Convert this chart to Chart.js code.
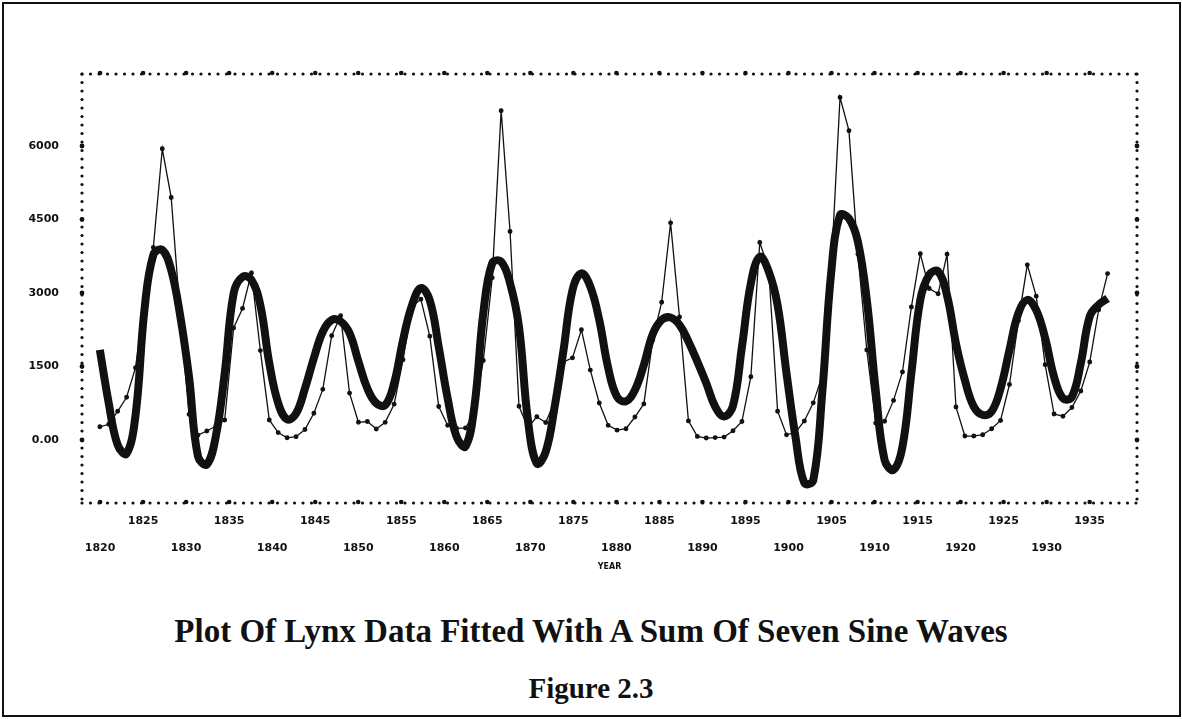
<!DOCTYPE html>
<html>
<head>
<meta charset="utf-8">
<script src="https://cdn.jsdelivr.net/npm/chart.js"></script>
<style>
    body { margin: 0; background: #fff; }
    #frame { position: absolute; left: 2px; top: 2px; width: 1175px; height: 711px; border: 2px solid #111; }
    #wrap { position: absolute; left: 0; top: 0; width: 1182px; height: 600px; }
    .cap { position: absolute; left: 0; width: 1182px; text-align: center; font-family: 'Liberation Serif', 'Times New Roman', serif; font-weight: bold; color: #111; }
</style>
</head>
<body>
<div id="frame"></div>
<div id="wrap"><canvas id="chart1"></canvas></div>
<div class="cap" style="top: 613px; font-size: 33px">Plot Of Lynx Data Fitted With A Sum Of Seven Sine Waves</div>
<div class="cap" style="top: 672px; font-size: 29px">Figure 2.3</div>
<script>
const years = [
    1821, 1822, 1823, 1824, 1825, 1826, 1827, 1828, 1829, 1830,
    1831, 1832, 1833, 1834, 1835, 1836, 1837, 1838, 1839, 1840,
    1841, 1842, 1843, 1844, 1845, 1846, 1847, 1848, 1849, 1850,
    1851, 1852, 1853, 1854, 1855, 1856, 1857, 1858, 1859, 1860,
    1861, 1862, 1863, 1864, 1865, 1866, 1867, 1868, 1869, 1870,
    1871, 1872, 1873, 1874, 1875, 1876, 1877, 1878, 1879, 1880,
    1881, 1882, 1883, 1884, 1885, 1886, 1887, 1888, 1889, 1890,
    1891, 1892, 1893, 1894, 1895, 1896, 1897, 1898, 1899, 1900,
    1901, 1902, 1903, 1904, 1905, 1906, 1907, 1908, 1909, 1910,
    1911, 1912, 1913, 1914, 1915, 1916, 1917, 1918, 1919, 1920,
    1921, 1922, 1923, 1924, 1925, 1926, 1927, 1928, 1929, 1930,
    1931, 1932, 1933, 1934
]

// raw lynx trappings
const lynx = [
    269, 321, 585, 871, 1475, 2821, 3928, 5943, 4950, 2577,
    523, 98, 184, 279, 409, 2285, 2685, 3409, 1824, 409,
    151, 45, 68, 213, 546, 1033, 2129, 2536, 957, 361,
    377, 225, 360, 731, 1638, 2725, 2871, 2119, 684, 299,
    236, 245, 552, 1623, 3311, 6721, 4254, 687, 255, 473,
    358, 784, 1594, 1676, 2251, 1426, 756, 299, 201, 229,
    469, 736, 2042, 2811, 4431, 2511, 389, 73, 39, 49,
    59, 188, 377, 1292, 4031, 3495, 587, 105, 153, 387,
    758, 1307, 3465, 6991, 6313, 3794, 1836, 345, 382, 808,
    1388, 2713, 3800, 3091, 2985, 3790, 674, 81, 80, 108,
    229, 399, 1132, 2432, 3574, 2935, 1537, 529, 485, 662,
    1000, 1590, 2657, 3396
]

// fitted curve (sum of seven sine waves)
const fitted = [
    1840, 750, -100, -280, 500, 2650, 3780, 3880, 3470, 2550,
    1290, -330, -500, 70, 1360, 2990, 3330, 3270, 2750, 1570,
    750, 420, 540, 1050, 1670, 2210, 2450, 2420, 2180, 1600,
    1050, 750, 710, 1160, 2040, 2750, 3100, 2850, 1900, 850,
    70, -130, 680, 2590, 3610, 3640, 3200, 2310, 410, -480,
    -240, 680, 1840, 3060, 3400, 3130, 2450, 1470, 880, 790,
    1020, 1530, 2160, 2450, 2500, 2350, 2010, 1600, 1160, 680,
    480, 700, 1900, 3200, 3740, 3440, 2750, 1360, 70, -880,
    -820, 950, 3400, 4590, 4520, 4050, 2860, 1020, -410, -610,
    -140, 1360, 2860, 3370, 3440, 2950, 1970, 1220, 680, 510,
    580, 1050, 1840, 2590, 2860, 2650, 2080, 1290, 850, 880,
    1570, 2520, 2760, 2890
]

const yTicks = [0, 1500, 3000, 4500, 6000]
const xTicks = [1820, 1825, 1830, 1835, 1840, 1845, 1850, 1855, 1860, 1865, 1870, 1875,
    1880, 1885, 1890, 1895, 1900, 1905, 1910, 1915, 1920, 1925, 1930, 1935]

const ink = '#111'
const tickFont = { family: 'DejaVu Sans', weight: 'bold', size: 11 }
const noLines = { grid: { display: false }, border: { display: false } }

// the old line-printer frame: a row of dots, a fatter one every fifth
const dottedFrame = {
    id: 'dottedFrame',
    afterDraw(chart) {
        const { ctx, chartArea: a } = chart
        const dot = (x, y, r) => {
            ctx.beginPath()
            ctx.arc(x, y, r, 0, Math.PI * 2)
            ctx.fill()
        }
        ctx.save()
        ctx.fillStyle = ink
        const step = 8.5
        for (let x = a.left; x <= a.right + 1; x += step) {
            dot(x, a.top, 1.6)
            dot(x, a.bottom, 1.6)
        }
        for (let y = a.top; y <= a.bottom + 1; y += step) {
            dot(a.left, y, 1.6)
            dot(a.right, y, 1.6)
        }
        const xs = chart.scales.xl
        xs.ticks.forEach(t => {
            const px = xs.getPixelForValue(t.value)
            dot(px, a.top - 1, 2.3)
            dot(px, a.bottom - 1, 2.3)
        })
        const ys = chart.scales.y
        ys.ticks.forEach(t => {
            const py = ys.getPixelForValue(t.value)
            dot(a.left, py, 2.4)
            dot(a.right, py, 2.4)
        })
        ctx.restore()
    }
}

const data = {
    datasets: [
        {
            data: years.map((yr, i) => ({ x: yr, y: lynx[i] })),
            borderColor: ink,
            backgroundColor: ink,
            borderWidth: 1.3,
            pointRadius: 1.8,
            tension: 0
        },
        {
            data: years.map((yr, i) => ({ x: yr, y: fitted[i] })),
            borderColor: ink,
            borderWidth: 8,
            pointRadius: 0,
            tension: 0.4
        }
    ]
}

const options = {
    responsive: true,
    maintainAspectRatio: false,
    animation: false,
    layout: { padding: 0 },
    plugins: {
        legend: { display: false },
        tooltip: { enabled: false }
    },
    scales: {
        x: { type: 'linear', display: false, min: 1819, max: 1937.3 },
        xl: {
            type: 'linear',
            position: 'bottom',
            min: 1817.9,
            max: 1940.5,
            afterBuildTicks: s => { s.ticks = xTicks.map(v => ({ value: v })) },
            afterFit: s => { s.height = 97 },
            ticks: {
                autoSkip: false,
                maxRotation: 0,
                padding: -3,
                color: ink,
                font: { ...tickFont, lineHeight: 2.45 },
                callback: v => v % 10 === 0 ? ['', String(v)] : [String(v), '']
            },
            ...noLines,
            title: {
                display: true,
                text: 'YEAR',
                color: ink,
                font: { family: 'DejaVu Sans', weight: 'bold', size: 8 },
                padding: { top: 0, bottom: 28 }
            }
        },
        x2: {
            type: 'linear',
            position: 'top',
            min: 1819,
            max: 1937.3,
            afterFit: s => { s.height = 74 },
            ticks: { display: false },
            ...noLines
        },
        y: {
            min: -1286,
            max: 7469,
            afterBuildTicks: s => { s.ticks = yTicks.map(v => ({ value: v })) },
            afterFit: s => { s.width = 82 },
            ticks: {
                padding: 15,
                color: ink,
                font: tickFont,
                callback: v => v === 0 ? '0.00' : String(v)
            },
            ...noLines
        },
        y2: {
            position: 'right',
            min: -1286,
            max: 7469,
            afterFit: s => { s.width = 45 },
            ticks: { display: false },
            ...noLines
        }
    }
}

new Chart('chart1', { type: 'line', data, options, plugins: [dottedFrame] })
</script>
</body>
</html>
